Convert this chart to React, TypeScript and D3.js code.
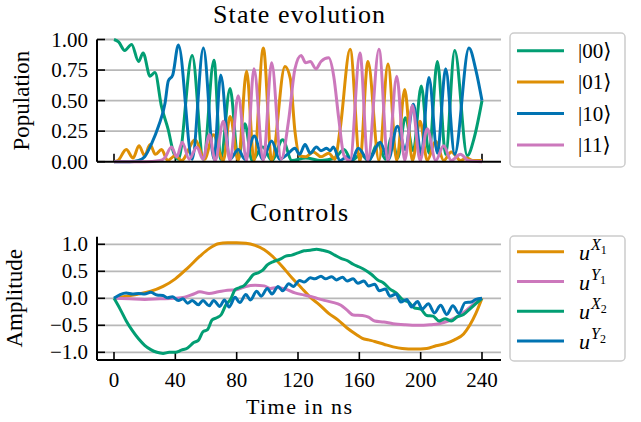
import React from 'react';
import * as d3 from 'd3';

// time axis ticks (ns)
const timeTicks = [0, 40, 80, 120, 160, 200, 240];
const popTicks = [0, 0.25, 0.5, 0.75, 1];
const popTickLabels = ['0.00', '0.25', '0.50', '0.75', '1.00'];
const ampTicks = [-1, -0.5, 0, 0.5, 1];
const ampTickLabels = ['\u22121.0', '\u22120.5', '0.0', '0.5', '1.0'];

// populations, [t, value]
const pop00: [number, number][] = [
  [0, 1.0], [3, 0.98], [7, 0.91], [11.5, 0.96], [16, 0.82], [19, 0.89], [23.5, 0.7], [26.7, 0.73],
  [31, 0.45], [35.4, 0.26], [38.7, 0.08], [42, 0.02], [51, 0.87], [58.3, 0.02], [65.2, 0.83],
  [69.6, 0.02], [75.7, 0.6], [81, 0.02], [85.4, 0.31], [90, 0.01], [97, 0.12], [103, 0.01],
  [110, 0.18], [116, 0.01], [125, 0.03], [135, 0.01], [144, 0.03], [150, 0.1], [155, 0.01],
  [161, 0.06], [166, 0.01], [172, 0.15], [177, 0.02], [181, 0.2], [185, 0.03], [190, 0.36],
  [195.2, 0.09], [200.4, 0.62], [205.4, 0.07], [210.9, 0.82], [216.3, 0.06], [222.2, 0.91],
  [230.4, 0.05], [235, 0.2], [240, 0.5],
];
const pop01: [number, number][] = [
  [0, 0], [2.6, 0.01], [8, 0.1], [12.4, 0.03], [16.3, 0.13], [20, 0.05], [23.5, 0.14], [27, 0.06],
  [31, 0.1], [35, 0.01], [40, 0.05], [44, 0.01], [53, 0.18], [59, 0.02], [64.8, 0.22], [71.3, 0.01],
  [75.7, 0.37], [81, 0.01], [86.5, 0.74], [91.3, 0.01], [97.4, 0.93], [102.8, 0.01], [111.5, 0.78],
  [115, 0.68], [118, 0.25], [121, 0.05], [125, 0.04], [130, 0.08], [135, 0.04], [140, 0.07],
  [144, 0.02], [147.4, 0.26], [154, 0.92], [160.4, 0.01], [165.6, 0.82], [172.8, 0.01],
  [178.7, 0.8], [184.4, 0.01], [189.6, 0.59], [194.6, 0.01], [199.6, 0.33], [204.3, 0.01],
  [209.8, 0.17], [215, 0.01], [220, 0.08], [226, 0.01], [230, 0.03], [234, 0.01], [240, 0.01],
];
const pop10: [number, number][] = [
  [0, 0], [10, 0], [16, 0.01], [20, 0.04], [24.6, 0.15], [29, 0.29], [33.3, 0.48], [35.4, 0.66],
  [38.3, 0.71], [42, 0.955], [51, 0.02], [58.3, 0.93], [65.2, 0.02], [69.6, 0.71], [75.7, 0.02],
  [81, 0.1], [85.4, 0.02], [91.5, 0.21], [97, 0.02], [102.8, 0.17], [108, 0.02], [113, 0.06],
  [118, 0.11], [121, 0.06], [124.6, 0.14], [128, 0.07], [132, 0.12], [135, 0.09], [138.7, 0.11],
  [141, 0.09], [143, 0.12], [147.4, 0.01], [152, 0.04], [155, 0.01], [159.3, 0.11], [166, 0.01],
  [173.5, 0.16], [179, 0.02], [184.8, 0.29], [190, 0.1], [195.2, 0.47], [200.4, 0.06],
  [205.4, 0.69], [210.9, 0.07], [216.3, 0.76], [222.2, 0.06], [231.5, 0.93], [236, 0.75], [240, 0.5],
];
const pop11: [number, number][] = [
  [0, 0], [20, 0], [30, 0.01], [33, 0.03], [37.5, 0.12], [41, 0.04], [44.5, 0.16], [49, 0.02],
  [54, 0.12], [58, 0.02], [62.2, 0.22], [66, 0.01], [71.3, 0.33], [75.7, 0.01], [81, 0.54],
  [86.5, 0.01], [91.3, 0.76], [97.4, 0.01], [102.8, 0.81], [109, 0.02], [114, 0.35], [118, 0.76],
  [122, 0.87], [125, 0.81], [128, 0.82], [131.7, 0.76], [135, 0.82], [140, 0.85], [143.3, 0.7],
  [146.6, 0.35], [150, 0.05], [154, 0.01], [160.4, 0.89], [165.6, 0.01], [172.8, 0.92],
  [178.7, 0.01], [184.4, 0.7], [189.6, 0.01], [194.6, 0.46], [199.6, 0.01], [204.3, 0.27],
  [209.8, 0.01], [215, 0.13], [220, 0.01], [226, 0.06], [231, 0.01], [240, 0],
];

// control amplitudes
const uX1: [number, number][] = [
  [0, 0], [8, 0.04], [16, 0.08], [24, 0.13], [32, 0.22], [40, 0.36], [48, 0.56], [56, 0.78],
  [62, 0.92], [68, 1.01], [74, 1.03], [80, 1.03], [86, 1.02], [92, 0.98], [98, 0.9], [104, 0.76],
  [110, 0.58], [116, 0.38], [122, 0.2], [128, 0.02], [134, -0.12], [140, -0.28], [146, -0.4],
  [152, -0.55], [158, -0.67], [162, -0.74], [166, -0.77], [170, -0.8], [176, -0.85], [182, -0.9],
  [188, -0.93], [196, -0.94], [204, -0.93], [210, -0.88], [216, -0.84], [222, -0.77], [228, -0.66],
  [232, -0.5], [236, -0.28], [240, 0],
];
const uY1: [number, number][] = [
  [0, 0], [10, -0.01], [20, -0.02], [30, -0.01], [40, 0], [46, 0.02], [52, 0.08], [56, 0.12],
  [62, 0.09], [68, 0.12], [74, 0.15], [80, 0.16], [86, 0.22], [92, 0.24], [98, 0.23], [102, 0.18],
  [106, 0.2], [112, 0.17], [118, 0.1], [124, 0.06], [130, 0.02], [136, -0.03], [142, -0.07],
  [148, -0.13], [152, -0.22], [156, -0.31], [162, -0.32], [166, -0.35], [170, -0.42], [176, -0.44],
  [182, -0.47], [190, -0.49], [198, -0.5], [206, -0.49], [212, -0.47], [218, -0.42], [224, -0.34],
  [230, -0.22], [235, -0.1], [240, 0],
];
const uX2: [number, number][] = [
  [0, 0], [4, -0.2], [8, -0.42], [12, -0.6], [16, -0.75], [20, -0.87], [24, -0.95], [28, -1.0],
  [32, -1.02], [36, -1.0], [40, -1.0], [44, -0.96], [48, -0.92], [52, -0.82], [55, -0.78],
  [58, -0.62], [61, -0.58], [64, -0.4], [67, -0.36], [70, -0.3], [73, -0.12], [76, -0.02],
  [79, 0.16], [82, 0.2], [85, 0.24], [88, 0.34], [91, 0.44], [94, 0.47], [97, 0.52], [100, 0.62],
  [104, 0.68], [108, 0.72], [112, 0.78], [116, 0.8], [120, 0.84], [124, 0.88], [128, 0.89],
  [132, 0.91], [136, 0.89], [140, 0.86], [144, 0.8], [148, 0.74], [152, 0.7], [156, 0.63],
  [160, 0.58], [164, 0.52], [168, 0.44], [172, 0.34], [176, 0.28], [180, 0.17], [184, 0.1],
  [188, -0.02], [192, -0.07], [196, -0.18], [200, -0.2], [204, -0.32], [208, -0.33], [212, -0.42],
  [216, -0.38], [220, -0.42], [224, -0.34], [228, -0.3], [232, -0.2], [236, -0.1], [240, 0],
];
const uY2: [number, number][] = [
  [0, 0], [4, 0.07], [8, 0.1], [12, 0.08], [16, 0.09], [20, 0.08], [24, 0.11], [28, 0.06],
  [32, 0.05], [35, 0.01], [38, 0.03], [42, -0.04], [45, -0.01], [48, -0.09], [51, -0.04],
  [55, -0.12], [58, -0.04], [62, -0.14], [65, -0.04], [69, -0.15], [72, -0.03], [75, -0.16],
  [79, 0.02], [82, -0.08], [86, 0.07], [89, -0.03], [93, 0.13], [96, 0.04], [100, 0.18],
  [103, 0.08], [107, 0.22], [110, 0.14], [114, 0.27], [117, 0.22], [121, 0.33], [124, 0.3],
  [128, 0.38], [131, 0.36], [135, 0.41], [138, 0.36], [142, 0.4], [145, 0.34], [149, 0.39],
  [152, 0.32], [156, 0.36], [159, 0.28], [163, 0.32], [166, 0.23], [170, 0.26], [173, 0.14],
  [177, 0.17], [180, 0.04], [184, 0.08], [187, -0.07], [191, -0.02], [194, -0.16], [198, -0.06],
  [201, -0.2], [205, -0.1], [209, -0.27], [213, -0.13], [217, -0.3], [221, -0.14], [225, -0.28],
  [229, -0.08], [233, -0.07], [236, -0.02], [240, 0],
];

const green = '#029e73';
const orange = '#de8f05';
const blue = '#0173b2';
const pink = '#cc78bc';

const popSeries = [
  { label: '00', data: pop00, color: green },
  { label: '01', data: pop01, color: orange },
  { label: '10', data: pop10, color: blue },
  { label: '11', data: pop11, color: pink },
];
const ctrlSeries = [
  { sup: 'X', sub: '1', data: uX1, color: orange },
  { sup: 'Y', sub: '1', data: uY1, color: pink },
  { sup: 'X', sub: '2', data: uX2, color: green },
  { sup: 'Y', sub: '2', data: uY2, color: blue },
];

const font = '"Liberation Serif", "DejaVu Serif", serif';
const gridColor = '#b8b8b8';

const App = () => {
  const left = 97;
  const right = 501;
  const x = d3.scaleLinear().domain([0, 240]).range([114, 482]);
  const yTop = d3.scaleLinear().domain([0, 1]).range([161.7, 39.5]);
  const yBot = d3.scaleLinear().domain([-1, 1]).range([352.3, 244.3]);
  const botTop = 236.7;
  const botBottom = 360;

  const lineTop = d3.line<[number, number]>()
    .x(d => x(d[0]))
    .y(d => yTop(d[1]))
    .curve(d3.curveMonotoneX);
  const lineBot = d3.line<[number, number]>()
    .x(d => x(d[0]))
    .y(d => yBot(d[1]))
    .curve(d3.curveMonotoneX);

  return (
    <svg width={641} height={422} style={{ position: 'absolute', left: 0, top: 0 }} fontFamily={font}>
      <rect width={641} height={422} fill="white" />

      {/* ---- top: state evolution ---- */}
      <text x={(left + right) / 2} y={23} textAnchor="middle" fontSize={26} textLength={172} lengthAdjust="spacing">State evolution</text>
      {popTicks.slice(1).map(v => (
        <line key={v} x1={left} x2={right} y1={yTop(v)} y2={yTop(v)} stroke={gridColor} strokeWidth={1.8} />
      ))}
      {popTicks.map((v, i) => (
        <g key={v}>
          <line x1={left} x2={left + 8} y1={yTop(v)} y2={yTop(v)} stroke="black" strokeWidth={1.6} />
          <text x={88} y={yTop(v)} dy="0.34em" textAnchor="end" fontSize={21}>{popTickLabels[i]}</text>
        </g>
      ))}
      {timeTicks.map(t => (
        <line key={t} x1={x(t)} x2={x(t)} y1={yTop(0)} y2={yTop(0) - 8} stroke="black" strokeWidth={1.6} />
      ))}
      {popSeries.map(s => (
        <path key={s.label} d={lineTop(s.data) || ''} fill="none" stroke={s.color} strokeWidth={3} strokeLinejoin="round" />
      ))}
      <line x1={left} x2={left} y1={yTop(1)} y2={yTop(0)} stroke="black" strokeWidth={2} />
      <line x1={left} x2={right} y1={yTop(0)} y2={yTop(0)} stroke="black" strokeWidth={2} />
      <text transform={`translate(29,${(yTop(0) + yTop(1)) / 2}) rotate(-90)`} textAnchor="middle" fontSize={23}>Population</text>

      <g>
        <rect x={510} y={33} width={115} height={134} rx={4} fill="white" stroke="#cccccc" strokeWidth={1.5} />
        {popSeries.map((s, i) => {
          const cy = 50.7 + i * 31.4;
          return (
            <g key={s.label}>
              <line x1={517} x2={564} y1={cy} y2={cy} stroke={s.color} strokeWidth={3} />
              <text x={578} y={cy} dy="0.34em" fontSize={21}>{`|${s.label}\u27E9`}</text>
            </g>
          );
        })}
      </g>

      {/* ---- bottom: controls ---- */}
      <text x={(left + right) / 2} y={221} textAnchor="middle" fontSize={26} textLength={98} lengthAdjust="spacing">Controls</text>
      {ampTicks.map(v => (
        <line key={v} x1={left} x2={right} y1={yBot(v)} y2={yBot(v)} stroke={gridColor} strokeWidth={1.8} />
      ))}
      {ampTicks.map((v, i) => (
        <g key={v}>
          <line x1={left} x2={left + 8} y1={yBot(v)} y2={yBot(v)} stroke="black" strokeWidth={1.6} />
          <text x={88} y={yBot(v)} dy="0.34em" textAnchor="end" fontSize={21}>{ampTickLabels[i]}</text>
        </g>
      ))}
      {timeTicks.map(t => (
        <g key={t}>
          <line x1={x(t)} x2={x(t)} y1={botBottom} y2={botBottom - 8} stroke="black" strokeWidth={1.6} />
          <text x={x(t)} y={387} textAnchor="middle" fontSize={21}>{t}</text>
        </g>
      ))}
      {ctrlSeries.map(s => (
        <path key={s.sup + s.sub} d={lineBot(s.data) || ''} fill="none" stroke={s.color} strokeWidth={3} strokeLinejoin="round" />
      ))}
      <line x1={left} x2={left} y1={botTop} y2={botBottom} stroke="black" strokeWidth={2} />
      <line x1={left} x2={right} y1={botBottom} y2={botBottom} stroke="black" strokeWidth={2} />
      <text transform={`translate(22,${(botTop + botBottom) / 2}) rotate(-90)`} textAnchor="middle" fontSize={23}>Amplitude</text>
      <text x={(left + right) / 2} y={414} textAnchor="middle" fontSize={22} textLength={106} lengthAdjust="spacing">Time in ns</text>

      <g>
        <rect x={510} y={236} width={115} height={125} rx={4} fill="white" stroke="#cccccc" strokeWidth={1.5} />
        {ctrlSeries.map((s, i) => {
          const cy = 251.7 + i * 29.8;
          return (
            <g key={s.sup + s.sub}>
              <line x1={517} x2={564} y1={cy} y2={cy} stroke={s.color} strokeWidth={3} />
              <text x={579} y={cy + 8} fontSize={22}>
                <tspan fontStyle="italic">u</tspan>
                <tspan fontStyle="italic" fontSize={16} dy={-10} dx={1}>{s.sup}</tspan>
                <tspan fontSize={12} dy={4}>{s.sub}</tspan>
              </text>
            </g>
          );
        })}
      </g>
    </svg>
  );
};

export default App;
